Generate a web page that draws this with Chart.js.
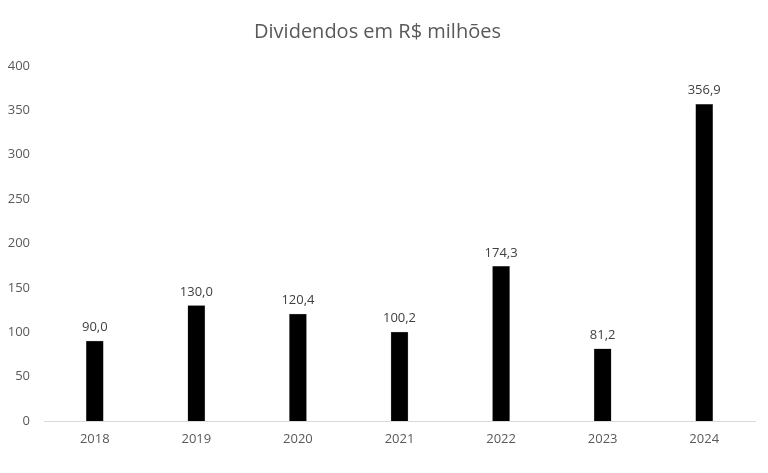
<!DOCTYPE html>
<html>
<head>
<meta charset="utf-8">
<script src="https://cdn.jsdelivr.net/npm/chart.js@4"></script>
<style>
  html, body { margin: 0; padding: 0; background: #fff; }
  #wrap { width: 768px; height: 473px; position: relative; }
</style>
</head>
<body>
<div id="wrap"><canvas id="bar-chart"></canvas></div>
<script>
const years = ["2018", "2019", "2020", "2021", "2022", "2023", "2024"];
const dividendos = [90.0, 130.0, 120.4, 100.2, 174.3, 81.2, 356.9];
const yTicks = [0, 50, 100, 150, 200, 250, 300, 350, 400];

const fontFamily = "'Open Sans', 'Liberation Sans', sans-serif";

// labels above each bar, Brazilian decimal comma
const valueLabels = {
  id: "valueLabels",
  afterDatasetsDraw(chart) {
    const ctx = chart.ctx;
    const meta = chart.getDatasetMeta(0);
    ctx.save();
    ctx.font = "13px " + fontFamily;
    ctx.fillStyle = "#404040";
    ctx.textAlign = "center";
    ctx.textBaseline = "bottom";
    meta.data.forEach(function (bar, i) {
      const txt = dividendos[i].toFixed(1).replace(".", ",");
      ctx.fillText(txt, bar.x, bar.y - 7);
    });
    ctx.restore();
  },
};

new Chart(document.getElementById("bar-chart").getContext("2d"), {
  type: "bar",
  data: {
    labels: years,
    datasets: [
      {
        data: dividendos,
        backgroundColor: "#000000",
        borderColor: "#7f7f7f",
        borderWidth: 0.5,
        barThickness: 17,
      },
    ],
  },
  options: {
    responsive: true,
    maintainAspectRatio: false,
    animation: false,
    layout: { padding: { left: 0, right: 13, top: 0, bottom: 12 } },
    plugins: {
      legend: { display: false },
      tooltip: { enabled: false },
      title: {
        display: true,
        text: "Dividendos em R$ milhões",
        color: "#595959",
        font: { family: fontFamily, size: 20, weight: "normal" },
        padding: { top: 20, bottom: 22 },
      },
    },
    scales: {
      x: {
        grid: { display: false, drawTicks: false },
        border: { display: true, color: "#d9d9d9", width: 1 },
        ticks: {
          color: "#595959",
          font: { family: fontFamily, size: 13 },
          padding: 10,
        },
        afterFit(scale) { scale.height = 40; },
      },
      y: {
        min: 0,
        max: 400,
        grid: { display: false, drawTicks: false },
        border: { display: false },
        afterBuildTicks(scale) { scale.ticks = yTicks.map(v => ({ value: v })); },
        ticks: {
          color: "#595959",
          font: { family: fontFamily, size: 13 },
          padding: 14,
        },
        afterFit(scale) { scale.width = 44; },
      },
    },
  },
  plugins: [valueLabels],
});
</script>
</body>
</html>
